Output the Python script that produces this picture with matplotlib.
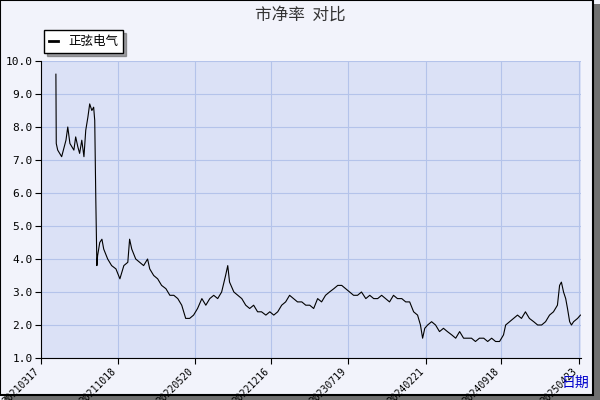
import matplotlib
matplotlib.use("Agg")
import matplotlib.pyplot as plt
from datetime import datetime, timedelta

plt.rcParams['font.family'] = ['Noto Sans CJK SC', 'DejaVu Sans']

# ================= DATA =================
START = datetime(2021, 3, 17)
# (day offset from START, P/B)
SERIES = [
    (42, 9.6), (43, 7.5), (47, 7.3), (58, 7.1), (70, 7.6), (75, 8.0), (81, 7.5), (92, 7.3),
    (97, 7.7), (103, 7.4), (108, 7.2), (114, 7.6), (120, 7.1), (125, 7.9), (131, 8.3),
    (136, 8.7), (142, 8.5), (147, 8.6), (150, 8.2), (153, 5.8), (156, 3.8), (158, 4.1),
    (164, 4.5), (170, 4.6), (175, 4.3), (186, 4.0), (197, 3.8), (209, 3.7), (220, 3.4),
    (231, 3.8), (242, 3.9), (247, 4.6), (253, 4.3), (264, 4.0), (275, 3.9), (286, 3.8),
    (297, 4.0), (303, 3.7), (314, 3.5), (325, 3.4), (336, 3.2), (348, 3.1), (359, 2.9),
    (370, 2.9), (381, 2.8), (392, 2.6), (403, 2.2), (414, 2.2), (425, 2.3), (436, 2.5),
    (448, 2.8), (459, 2.6), (470, 2.8), (481, 2.9), (492, 2.8), (503, 3.0), (514, 3.5),
    (520, 3.8), (525, 3.3), (537, 3.0), (548, 2.9), (559, 2.8), (570, 2.6), (581, 2.5),
    (592, 2.6), (603, 2.4), (614, 2.4), (626, 2.3), (637, 2.4), (648, 2.3), (659, 2.4),
    (670, 2.6), (681, 2.7), (692, 2.9), (703, 2.8), (714, 2.7), (726, 2.7), (737, 2.6),
    (748, 2.6), (759, 2.5), (770, 2.8), (781, 2.7), (792, 2.9), (803, 3.0), (815, 3.1),
    (826, 3.2), (837, 3.2), (848, 3.1), (859, 3.0), (870, 2.9), (881, 2.9), (892, 3.0),
    (904, 2.8), (915, 2.9), (926, 2.8), (937, 2.8), (948, 2.9), (959, 2.8), (970, 2.7),
    (981, 2.9), (992, 2.8), (1004, 2.8), (1015, 2.7), (1026, 2.7), (1037, 2.4), (1048, 2.3),
    (1056, 2.0), (1062, 1.6), (1068, 1.9), (1076, 2.0), (1087, 2.1), (1098, 2.0), (1109, 1.8),
    (1120, 1.9), (1131, 1.8), (1143, 1.7), (1154, 1.6), (1165, 1.8), (1176, 1.6), (1187, 1.6),
    (1198, 1.6), (1209, 1.5), (1220, 1.6), (1232, 1.6), (1243, 1.5), (1254, 1.6), (1265, 1.5),
    (1276, 1.5), (1287, 1.7), (1293, 2.0), (1304, 2.1), (1315, 2.2), (1326, 2.3), (1337, 2.2),
    (1348, 2.4), (1359, 2.2), (1371, 2.1), (1382, 2.0), (1393, 2.0), (1404, 2.1), (1415, 2.3),
    (1426, 2.4), (1437, 2.6), (1443, 3.2), (1448, 3.3), (1454, 3.0), (1460, 2.8), (1465, 2.5),
    (1471, 2.1), (1476, 2.0), (1482, 2.1), (1493, 2.2), (1501, 2.3),
]
TICK_DAYS = ["20210317", "20211018", "20220520", "20221216", "20230719",
             "20240221", "20240918", "20250423"]
Y_TICKS = [1.0, 2.0, 3.0, 4.0, 5.0, 6.0, 7.0, 8.0, 9.0, 10.0]
# =========================================

dates = [START + timedelta(days=d) for d, _ in SERIES]
pb = [v for _, v in SERIES]
ticks = [datetime.strptime(t, "%Y%m%d") for t in TICK_DAYS]

fig = plt.figure(figsize=(6, 4), dpi=100, facecolor="#f2f3fb")
# outer frame with shadow
fig.patches.append(plt.Rectangle((0.006, 0.0), 0.994, 0.99, transform=fig.transFigure,
                                 facecolor="#707070", edgecolor="none", zorder=-2))
fig.patches.append(plt.Rectangle((0.0, 0.012), 0.988, 0.988, transform=fig.transFigure,
                                 facecolor="#f2f3fb", edgecolor="black", lw=1.5, zorder=-1))

ax = fig.add_axes([0.068, 0.105, 0.9, 0.7425])
ax.set_facecolor("#dbe1f6")
ax.plot(dates, pb, color="black", lw=0.8)
ax.set_ylim(1.0, 10.0)
ax.set_xlim(ticks[0], START + timedelta(days=1502))
ax.set_yticks(Y_TICKS)
ax.set_yticklabels([f"{v:.1f}" for v in Y_TICKS], fontsize=8, family="DejaVu Sans Mono")
ax.set_xticks(ticks)
ax.set_xticklabels(TICK_DAYS, rotation=45, ha="right", fontsize=7, family="DejaVu Sans Mono")
ax.grid(True, color="#b4c3ea", lw=0.8)
for s in ["top", "right"]:
    ax.spines[s].set_visible(False)
ax.tick_params(length=4, pad=2)

fig.text(0.5, 0.962, "市净率  对比", ha="center", va="center", fontsize=12, color="#333333")
ax.text(0.965, -0.06, "日期", transform=ax.transAxes, color="#0000cc", fontsize=10,
        ha="left", va="top")

leg = ax.legend(["正弦电气"], loc="lower left", bbox_to_anchor=(-0.005, 1.005),
                fontsize=9, frameon=True, fancybox=False, shadow=True,
                handlelength=0.7, borderpad=0.4)
leg.get_frame().set_edgecolor("black")
leg.get_frame().set_facecolor("white")
for line in leg.get_lines():
    line.set_linewidth(2)

fig.savefig("out.png", dpi=100, facecolor=fig.get_facecolor())
